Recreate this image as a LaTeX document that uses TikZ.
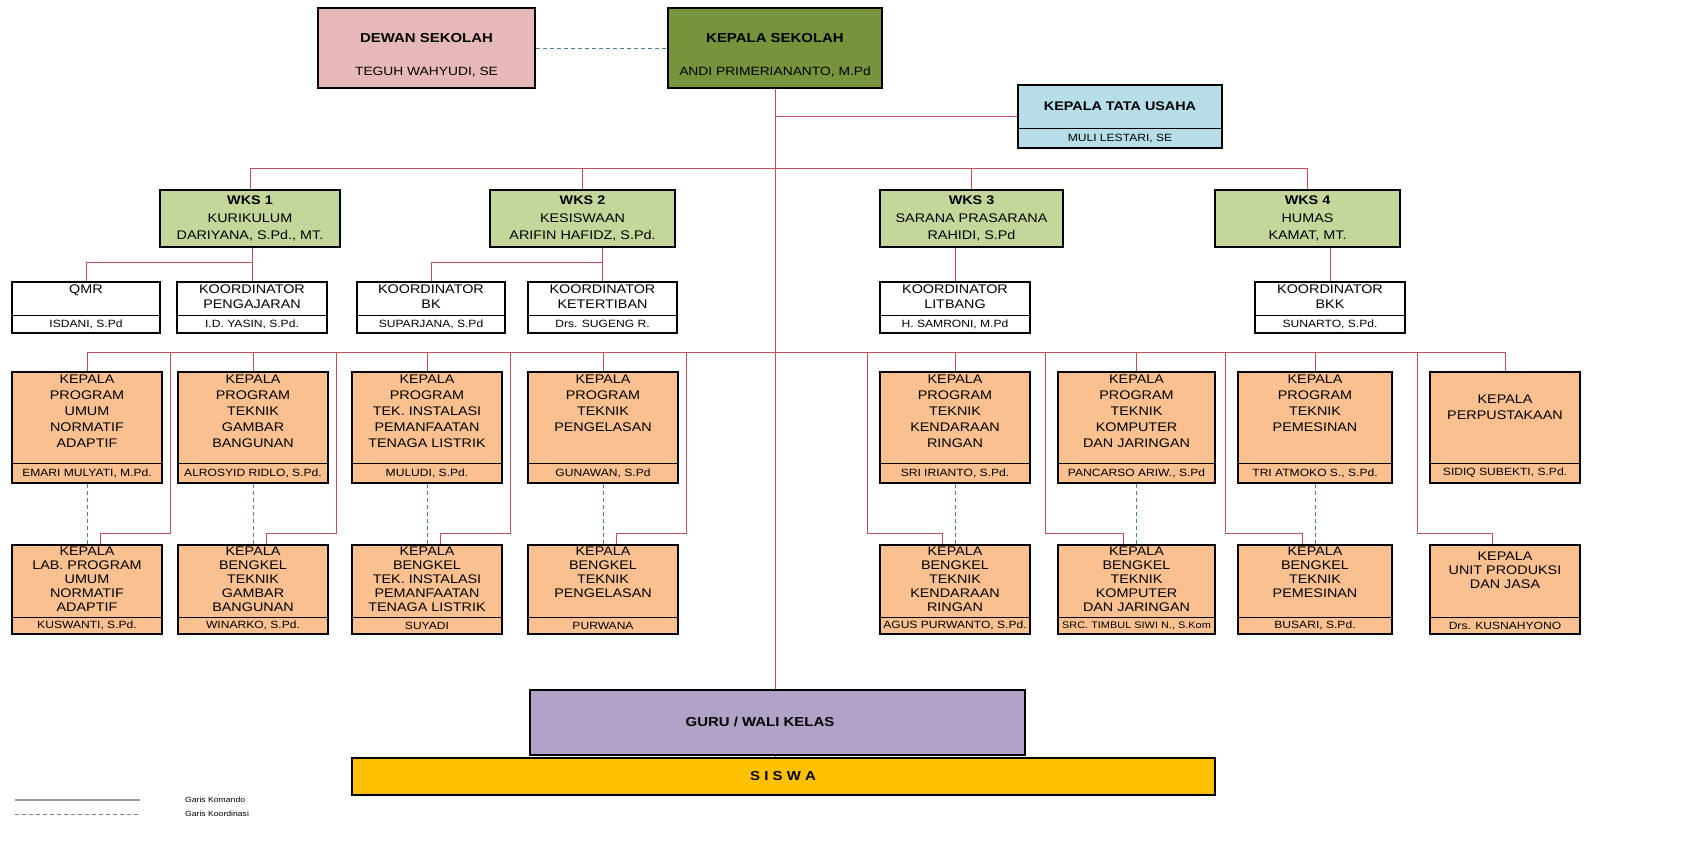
\documentclass[tikz,border=0pt]{standalone}
\usepackage{fontspec}
\setmainfont{Liberation Sans}[FakeStretch=1.15]
\usetikzlibrary{calc,fit}
\definecolor{cmdc}{RGB}{192,80,90}
\definecolor{crdc}{RGB}{80,130,150}
\definecolor{legc}{RGB}{170,150,160}
\definecolor{dewanc}{RGB}{230,185,184}
\definecolor{ksc}{RGB}{119,147,60}
\definecolor{ktuc}{RGB}{183,222,232}
\definecolor{wksc}{RGB}{196,215,155}
\definecolor{progc}{RGB}{250,192,144}
\definecolor{guruc}{RGB}{179,162,199}
\definecolor{siswac}{RGB}{255,192,0}
\def\rowlead{16}
\def\rowoff{3}
% #1 name, #2 x-left, #3 y-top, #4 x-right, #5 y-bottom, #6 y-divider, #7 fill, #8 title, #9 person
\newcommand\orgbox[9]{%
  \node[box,fill=#7,fit={(#2,#3) (#4,#5)}] (#1) {};
  \draw[divl] (#2,#6) -- (#4,#6);
  \node[ttl,anchor=north] (#1t) at ($(#2,#3)!.5!(#4,#3)+(0,\rowoff)$) {#8};
  \node[nm] (#1n) at ($(#2,#6)!.5!(#4,#5)$) {#9};
}
\begin{document}
\begin{tikzpicture}[x=1pt,y=-1pt,
  box/.style={draw=black,line width=1.5pt,inner sep=0pt},
  cmd/.style={draw=cmdc,line width=1pt},
  crd/.style={draw=crdc,line width=0.9pt,dash pattern=on 4pt off 3pt},
  divl/.style={draw=black,line width=1pt},
  ttl/.style={font=\fontsize{12.5}{\rowlead}\selectfont,align=center,inner sep=0pt},
  nm/.style={font=\fontsize{10.5}{12}\selectfont,inner sep=0pt},
  big/.style={font=\fontsize{13}{15}\selectfont\bfseries,inner sep=0pt},
  med/.style={font=\fontsize{12}{13}\selectfont,inner sep=0pt},
  wkst/.style={font=\fontsize{12.5}{17.5}\selectfont,align=center,inner sep=0pt},
  leg/.style={font=\fontsize{7.5}{8}\selectfont,inner sep=0pt,anchor=west},
]
\useasboundingbox (0,0) rectangle (1683,867);

% ---------- top ----------
\node[box,fill=dewanc,fit={(318,8) (535,88)}] (dewan) {};
\node[big] (dewant) at (426.5,38) {DEWAN SEKOLAH};
\node[med] (dewann) at (426.5,72) {TEGUH WAHYUDI, SE};

\node[box,fill=ksc,fit={(668,8) (882,88)}] (ks) {};
\node[big] (kst) at (775,38) {KEPALA SEKOLAH};
\node[med] (ksn) at (775,72) {ANDI PRIMERIANANTO, M.Pd};

\node[box,fill=ktuc,fit={(1018,85) (1222,148)}] (ktu) {};
\draw[divl] (1018,128) -- (1222,128);
\node[font=\fontsize{12.5}{14}\selectfont\bfseries,inner sep=0pt] (ktut) at (1120,106) {KEPALA TATA USAHA};
\node[nm] (ktun) at (1120,138.5) {MULI LESTARI, SE};

% ---------- WKS ----------
\node[box,fill=wksc,fit={(160,190) (340,247)}] (wks1) {};
\node[wkst] (wks1t) at (wks1.center) {\textbf{WKS 1}\\KURIKULUM\\DARIYANA, S.Pd., MT.};
\node[box,fill=wksc,fit={(490,190) (675,247)}] (wks2) {};
\node[wkst] (wks2t) at (wks2.center) {\textbf{WKS 2}\\KESISWAAN\\ARIFIN HAFIDZ, S.Pd.};
\node[box,fill=wksc,fit={(880,190) (1063,247)}] (wks3) {};
\node[wkst] (wks3t) at (wks3.center) {\textbf{WKS 3}\\SARANA PRASARANA\\RAHIDI, S.Pd};
\node[box,fill=wksc,fit={(1215,190) (1400,247)}] (wks4) {};
\node[wkst] (wks4t) at (wks4.center) {\textbf{WKS 4}\\HUMAS\\KAMAT, MT.};

% ---------- coordinators ----------
\def\rowlead{15}\def\rowoff{3}
\orgbox{qmr}{12}{282}{160}{333}{315}{white}{QMR}{ISDANI, S.Pd}
\orgbox{peng}{177}{282}{327}{333}{315}{white}{KOORDINATOR\\PENGAJARAN}{I.D. YASIN, S.Pd.}
\orgbox{bk}{357}{282}{505}{333}{315}{white}{KOORDINATOR\\BK}{SUPARJANA, S.Pd}
\orgbox{ket}{528}{282}{677}{333}{315}{white}{KOORDINATOR\\KETERTIBAN}{Drs. SUGENG R.}
\orgbox{lit}{880}{282}{1030}{333}{315}{white}{KOORDINATOR\\LITBANG}{H. SAMRONI, M.Pd}
\orgbox{bkk}{1255}{282}{1405}{333}{315}{white}{KOORDINATOR\\BKK}{SUNARTO, S.Pd.}

% ---------- programs ----------
\def\rowlead{16}\def\rowoff{3}
\orgbox{p1}{12}{372}{162}{483}{463}{progc}{KEPALA\\PROGRAM\\UMUM\\NORMATIF\\ADAPTIF}{EMARI MULYATI, M.Pd.}
\orgbox{p2}{178}{372}{328}{483}{463}{progc}{KEPALA\\PROGRAM\\TEKNIK\\GAMBAR\\BANGUNAN}{ALROSYID RIDLO, S.Pd.}
\orgbox{p3}{352}{372}{502}{483}{463}{progc}{KEPALA\\PROGRAM\\TEK. INSTALASI\\PEMANFAATAN\\TENAGA LISTRIK}{MULUDI, S.Pd.}
\orgbox{p4}{528}{372}{678}{483}{463}{progc}{KEPALA\\PROGRAM\\TEKNIK\\PENGELASAN}{GUNAWAN, S.Pd}
\orgbox{p5}{880}{372}{1030}{483}{463}{progc}{KEPALA\\PROGRAM\\TEKNIK\\KENDARAAN\\RINGAN}{SRI IRIANTO, S.Pd.}
\orgbox{p6}{1058}{372}{1215}{483}{463}{progc}{KEPALA\\PROGRAM\\TEKNIK\\KOMPUTER\\DAN JARINGAN}{PANCARSO ARIW., S.Pd}
\orgbox{p7}{1238}{372}{1392}{483}{463}{progc}{KEPALA\\PROGRAM\\TEKNIK\\PEMESINAN}{TRI ATMOKO S., S.Pd.}
\orgbox{p8}{1430}{372}{1580}{483}{463}{progc}{~\\[-4pt]~\\KEPALA\\PERPUSTAKAAN}{SIDIQ SUBEKTI, S.Pd.}

% ---------- workshops ----------
\def\rowlead{14}\def\rowoff{1.5}
\orgbox{b1}{12}{545}{162}{634}{617}{progc}{KEPALA\\LAB. PROGRAM\\UMUM\\NORMATIF\\ADAPTIF}{KUSWANTI, S.Pd.}
\orgbox{b2}{178}{545}{328}{634}{617}{progc}{KEPALA\\BENGKEL\\TEKNIK\\GAMBAR\\BANGUNAN}{WINARKO, S.Pd.}
\orgbox{b3}{352}{545}{502}{634}{617}{progc}{KEPALA\\BENGKEL\\TEK. INSTALASI\\PEMANFAATAN\\TENAGA LISTRIK}{SUYADI}
\orgbox{b4}{528}{545}{678}{634}{617}{progc}{KEPALA\\BENGKEL\\TEKNIK\\PENGELASAN}{PURWANA}
\orgbox{b5}{880}{545}{1030}{634}{617}{progc}{KEPALA\\BENGKEL\\TEKNIK\\KENDARAAN\\RINGAN}{AGUS PURWANTO, S.Pd.}
\orgbox{b6}{1058}{545}{1215}{634}{617}{progc}{KEPALA\\BENGKEL\\TEKNIK\\KOMPUTER\\DAN JARINGAN}{{\fontsize{9.5}{11}\selectfont SRC. TIMBUL SIWI N., S.Kom}}
\orgbox{b7}{1238}{545}{1392}{634}{617}{progc}{KEPALA\\BENGKEL\\TEKNIK\\PEMESINAN}{BUSARI, S.Pd.}
\orgbox{b8}{1430}{545}{1580}{634}{617}{progc}{~\\KEPALA\\UNIT PRODUKSI\\DAN JASA}{Drs. KUSNAHYONO}

% ---------- bottom ----------
\node[box,fill=guruc,fit={(530,690) (1025,755)}] (guru) {};
\node[font=\fontsize{13}{15}\selectfont\bfseries,inner sep=0pt] (gurut) at (760,722) {GURU / WALI KELAS};
\node[box,fill=siswac,fit={(352,758) (1215,795)}] (siswa) {};
\node[font=\fontsize{13}{15}\selectfont\bfseries,inner sep=0pt] (siswat) at (783,776) {S I S W A};

% ---------- connectors ----------
\coordinate (busW) at (0,168);
\coordinate (sub) at (0,262);
\coordinate (pbus) at (0,352);
\coordinate (hb) at (0,533);

\draw[crd] (dewan.east) -- (ks.west);
\draw[cmd] (ks.south) -- (ks.south |- guru.north);
\draw[cmd] (ks.south |- guru.south) -- (ks.south |- siswa.north);
\draw[cmd] (ks.south |- ktu.west) -- (ktu.west);

\draw[cmd] (wks1.north |- busW) -- (wks4.north |- busW);
\foreach \w in {wks1,wks2,wks3,wks4} \draw[cmd] (\w.north |- busW) -- (\w.north);

\draw[cmd] (peng.north |- wks1.south) -- (peng.north);
\draw[cmd] (qmr.north |- sub) -- (peng.north |- sub);
\draw[cmd] (qmr.north |- sub) -- (qmr.north);

\draw[cmd] (ket.north |- wks2.south) -- (ket.north);
\draw[cmd] (bk.north |- sub) -- (ket.north |- sub);
\draw[cmd] (bk.north |- sub) -- (bk.north);

\draw[cmd] (lit.north |- wks3.south) -- (lit.north);
\draw[cmd] (bkk.north |- wks4.south) -- (bkk.north);

\draw[cmd] (p1.north |- pbus) -- (p8.north |- pbus);
\foreach \p in {p1,p2,p3,p4,p5,p6,p7,p8} \draw[cmd] (\p.north |- pbus) -- (\p.north);

% long command lines to workshops
\foreach \p/\b in {p1/b1,p2/b2,p3/b3,p4/b4}{
  \coordinate (v\p) at ($(\p.east)+(8,0)$);
  \coordinate (e\b) at ($(\b.north)+(13,0)$);
  \draw[cmd] (v\p |- pbus) -- (v\p |- hb) -| (e\b);
}
\foreach \p/\b in {p5/b5,p6/b6,p7/b7,p8/b8}{
  \coordinate (v\p) at ($(\p.west)+(-12,0)$);
  \coordinate (e\b) at ($(\b.north)+(-13,0)$);
  \draw[cmd] (v\p |- pbus) -- (v\p |- hb) -| (e\b);
}
\foreach \p/\b in {p1/b1,p2/b2,p3/b3,p4/b4,p5/b5,p6/b6,p7/b7} \draw[crd] (\p.south) -- (\b.north);

% ---------- legend ----------
\coordinate (l1a) at (15,800); \coordinate (l1b) at (140,800);
\coordinate (l2a) at (15,814); \coordinate (l2b) at (140,814);
\draw[draw=legc,line width=1.2pt] (l1a) -- (l1b);
\draw[draw=gray,line width=0.8pt,dash pattern=on 4pt off 3pt] (l2a) -- (l2b);
\node[leg] (lg1) at (185,800) {Garis Komando};
\node[leg] (lg2) at (185,814) {Garis Koordinasi};
\end{tikzpicture}
\end{document}
